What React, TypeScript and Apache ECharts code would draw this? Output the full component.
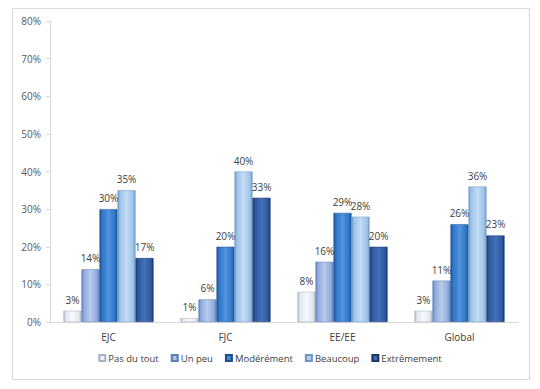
import React, { useEffect, useRef } from "react";
import * as echarts from "echarts";

const categories = ["EJC", "FJC", "EE/EE", "Global"];
const seriesNames = ["Pas du tout", "Un peu", "Modérément", "Beaucoup", "Extrêmement"];
const pasDuTout = [3, 1, 8, 3];
const unPeu = [14, 6, 16, 11];
const moderement = [30, 20, 29, 26];
const beaucoup = [35, 40, 28, 36];
const extremement = [17, 33, 20, 23];
const yTicks = [0, 10, 20, 30, 40, 50, 60, 70, 80];

const palette = [
  { base: "#dfe6ee", light: "#f7fafd", dark: "#a9b3bf" },
  { base: "#8eaadc", light: "#b9cbec", dark: "#5f7db8" },
  { base: "#2e74c6", light: "#4f93e0", dark: "#1d4f8e" },
  { base: "#9cc2e9", light: "#c4dcf4", dark: "#6d97c4" },
  { base: "#2f579e", light: "#4470bb", dark: "#1c3768" },
];

function grad(p: { base: string; light: string; dark: string }) {
  return new echarts.graphic.LinearGradient(0, 0, 1, 0, [
    { offset: 0, color: p.dark },
    { offset: 0.12, color: p.base },
    { offset: 0.5, color: p.light },
    { offset: 0.88, color: p.base },
    { offset: 1, color: p.dark },
  ]);
}

export default function App() {
  const ref = useRef<HTMLDivElement>(null);
  useEffect(() => {
    if (!ref.current) return;
    const chart = echarts.init(ref.current, null, { renderer: "svg" });
    const values = [pasDuTout, unPeu, moderement, beaucoup, extremement];
    const font = "'Open Sans', sans-serif";
    chart.setOption({
      animation: false,
      backgroundColor: "#ffffff",
      textStyle: { fontFamily: font },
      graphic: [
        {
          type: "rect",
          shape: { x: 12.5, y: 8.5, width: 517, height: 371 },
          style: { fill: "none", stroke: "#d9d9d9", lineWidth: 1 },
          silent: true,
        },
      ],
      grid: { left: 50, right: 22, top: 21, bottom: 67, containLabel: false },
      legend: {
        data: seriesNames,
        bottom: 21,
        left: "center",
        icon: "rect",
        itemWidth: 6,
        itemHeight: 6,
        itemGap: 12,
        textStyle: { fontSize: 9.5, color: "#404040", fontFamily: font, padding: [0, 0, 0, -2] },
      },
      xAxis: {
        type: "category",
        data: categories,
        axisLine: { lineStyle: { color: "#d9d9d9" } },
        axisTick: { show: false },
        axisLabel: { fontSize: 10, color: "#404040", margin: 10, fontFamily: font },
      },
      yAxis: {
        type: "value",
        min: 0,
        max: 80,
        interval: 10,
        axisLine: { show: true, lineStyle: { color: "#d9d9d9" } },
        axisTick: { show: true, inside: false, length: 4, lineStyle: { color: "#d9d9d9" } },
        splitLine: { show: false },
        axisLabel: {
          fontSize: 10,
          color: "#595959",
          margin: 9,
          fontFamily: font,
          formatter: (v: number) => (yTicks.includes(v) ? v + "%" : ""),
        },
      },
      series: seriesNames.map((name, i) => ({
        name,
        type: "bar",
        data: values[i],
        barGap: "0%",
        barCategoryGap: "23%",
        itemStyle: {
          color: grad(palette[i]),
          borderColor: palette[i].dark,
          borderWidth: 0.5,
        },
        label: {
          show: true,
          position: "top",
          distance: 6,
          formatter: "{c}%",
          fontSize: 10,
          color: "#404040",
          fontFamily: font,
        },
      })),
    });
    return () => chart.dispose();
  }, []);
  return (
    <div
      ref={ref}
      style={{ position: "fixed", left: 0, top: 0, width: 540, height: 389 }}
    />
  );
}
